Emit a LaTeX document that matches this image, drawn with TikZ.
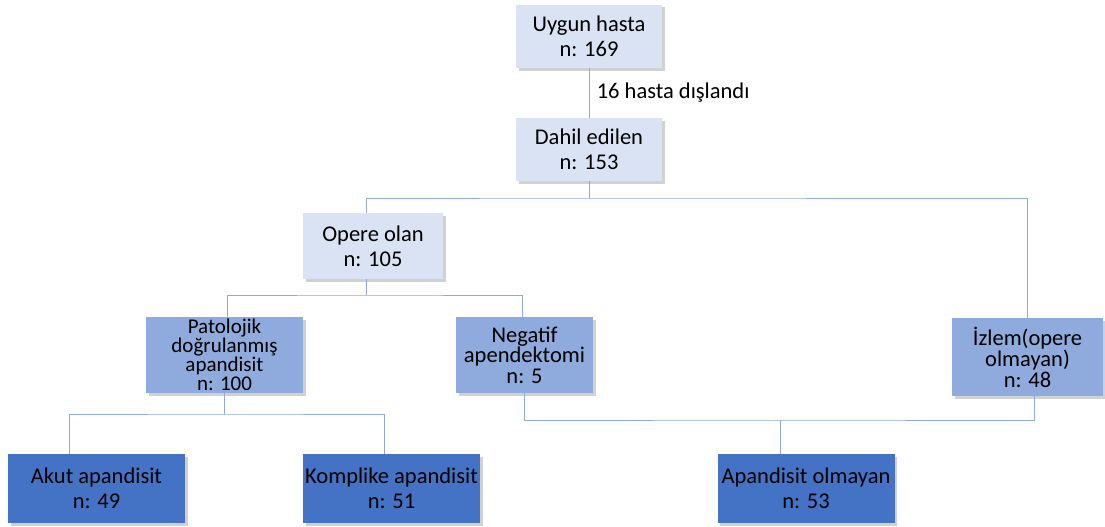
\documentclass[tikz,border=0pt]{standalone}
\usepackage{fontspec}
\setmainfont{Carlito}
\usetikzlibrary{shadows}

\definecolor{boxlight}{HTML}{DAE3F3}
\definecolor{boxmid}{HTML}{8FAADC}
\definecolor{boxdark}{HTML}{4472C4}
\definecolor{linkblue}{HTML}{8FAADC}

\begin{document}
\begin{tikzpicture}[x=1pt,y=-1pt]

\tikzset{%
every box/.style={
rectangle,
draw=none,
align=center,
inner sep=2pt,
font=\fontsize{22.5}{25}\selectfont,
drop shadow={shadow xshift=2.5pt,shadow yshift=-2.5pt,opacity=0.3,fill=black!60}
},
box light/.style={every box, fill=boxlight},
box mid/.style={every box, fill=boxmid},
box dark/.style={every box, fill=boxdark},
link/.style={draw=linkblue, line width=0.9pt}
}

\useasboundingbox (0,0) rectangle (1105,527);

% Top of the chart
\node [box light, minimum width=146, minimum height=63] (uygun) at (589,36.5) {Uygun hasta\\n: 169};
\node [box light, minimum width=146, minimum height=63] (dahil) at (589,149.5) {Dahil edilen\\n: 153};

% Second level
\node [box light, minimum width=140, minimum height=66] (opere) at (373,246) {Opere olan\\n: 105};
\node [box mid, minimum width=151, minimum height=78, font=\fontsize{22.5}{21}\selectfont] (izlem) at (1027.5,357) {İzlem(opere\\olmayan)\\n: 48};

% Third level
\node [box mid, minimum width=157, minimum height=76, inner sep=0pt, font=\fontsize{21}{19}\selectfont] (patolojik) at (224.5,355) {Patolojik\\doğrulanmış\\apandisit\\n: 100};
\node [box mid, minimum width=137, minimum height=76, font=\fontsize{22.5}{20.5}\selectfont] (negatif) at (524.5,355) {Negatif\\apendektomi\\n: 5};

% Bottom row
\foreach \n/\x/\t [count=\i] in {akut/96.5/Akut apandisit, komplike/391.5/Komplike apandisit, olmayan/806/Apandisit olmayan}
\node [box dark, minimum width=177, minimum height=69] (\n) at (\x,488.5) {\t\\n: \ifcase\i\or 49\or 51\or 53\fi};

% Split points of the tree
\coordinate (split-1) at (589,198);
\coordinate (split-2) at (366,295);
\coordinate (split-3) at (224.5,414);
\coordinate (split-4) at (780,420);

% Connectors
\draw [link] (uygun) -- node [right, font=\fontsize{22.5}{25}\selectfont, xshift=4pt] {16 hasta dışlandı} (dahil);
\draw [link] (dahil) -- (split-1);
\draw [link] ([xshift=-7]opere.north) |- (split-1) -| (izlem.north);
\draw [link] ([xshift=-7]opere.south) -- (split-2);
\draw [link] ([xshift=2.5]patolojik.north) |- (split-2) -| ([xshift=-2.5]negatif.north);
\draw [link] (patolojik) -- (split-3);
\draw [link] ([xshift=-27.5]akut.north) |- (split-3) -| ([xshift=-7.5]komplike.north);
\draw [link] (negatif) |- (split-4) -| ([xshift=6.5]izlem.south);
\draw [link] (split-4) -- ([xshift=-26]olmayan.north);

\end{tikzpicture}
\end{document}
